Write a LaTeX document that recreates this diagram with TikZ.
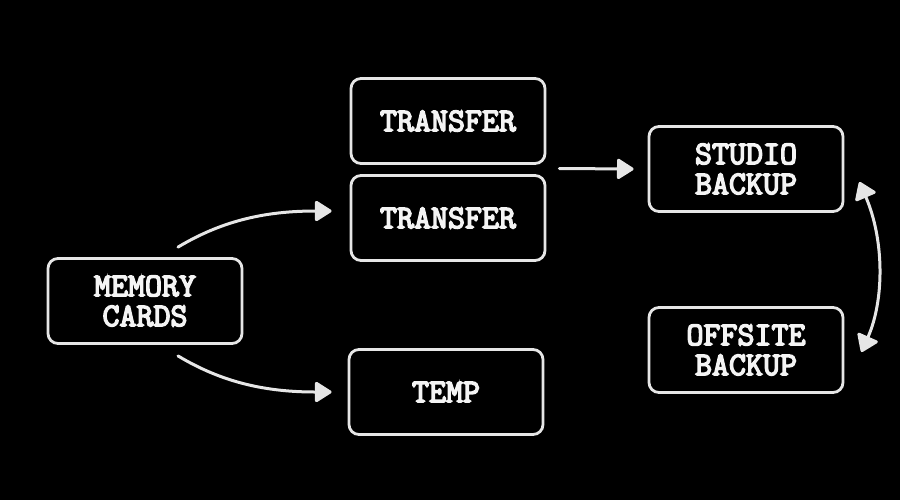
\documentclass[tikz,border=0pt]{standalone}
\usepackage{fontspec}
\newfontfamily\tw{Latin Modern Mono}[FakeBold=4.5]
\usetikzlibrary{arrows.meta,calc}
\definecolor{ink}{HTML}{E6E6E6}
\definecolor{txt}{HTML}{F4F4F4}
\begin{document}
\begin{tikzpicture}[x=0.5pt,y=-0.5pt,
  box/.style={draw=ink, line width=1.4pt, rounded corners=5pt,
    minimum width=97pt, minimum height=42.5pt, inner sep=0pt, align=center,
    text=txt, font=\tw\fontsize{16.5}{15}\selectfont},
  arr/.style={draw=ink, line width=1.5pt, line cap=round,
    -{Triangle[length=9pt,width=11pt,round]}},
  darr/.style={draw=ink, line width=1.5pt,
    {Triangle[length=9pt,width=12pt,round]}-{Triangle[length=9pt,width=12pt,round]}}]
\fill[black] (0,0) rectangle (900,500);
\useasboundingbox (0,0) rectangle (900,500);

\node[box] (mem) at (145,301) {MEMORY\\CARDS};
\node[box] (tr1) at (448,121) {TRANSFER};
\node[box] (tr2) at (448,218) {TRANSFER};
\node[box] (temp) at (446,392) {TEMP};
\node[box] (studio) at (746,169) {STUDIO\\BACKUP};
\node[box] (off) at (746,350) {OFFSITE\\BACKUP};

\coordinate (a1s) at ($(mem.north)+(33,-10)$);
\coordinate (a1e) at ($(tr2.west)+(-18,-7)$);
\coordinate (a2s) at ($(mem.south)+(33,11)$);
\coordinate (a2e) at ($(temp.west)+(-16,0)$);
\coordinate (a3s) at ($($(tr1.south east)!0.5!(tr2.north east)$)+(13,-1)$);
\coordinate (a3e) at ($(studio.west)+(-14,0)$);
\coordinate (a4s) at ($(studio.east)+(15,13)$);
\coordinate (a4e) at ($(off.east)+(17,2)$);

\draw[arr] (a1s) .. controls +(45,-27) and +(-65,0) .. (a1e);
\draw[arr] (a2s) .. controls +(45,27) and +(-65,0) .. (a2e);
\draw[arr] (a3s) -- (a3e);
\draw[darr] (a4s) .. controls +(25,58) and +(23,-52) .. (a4e);
\end{tikzpicture}
\end{document}
